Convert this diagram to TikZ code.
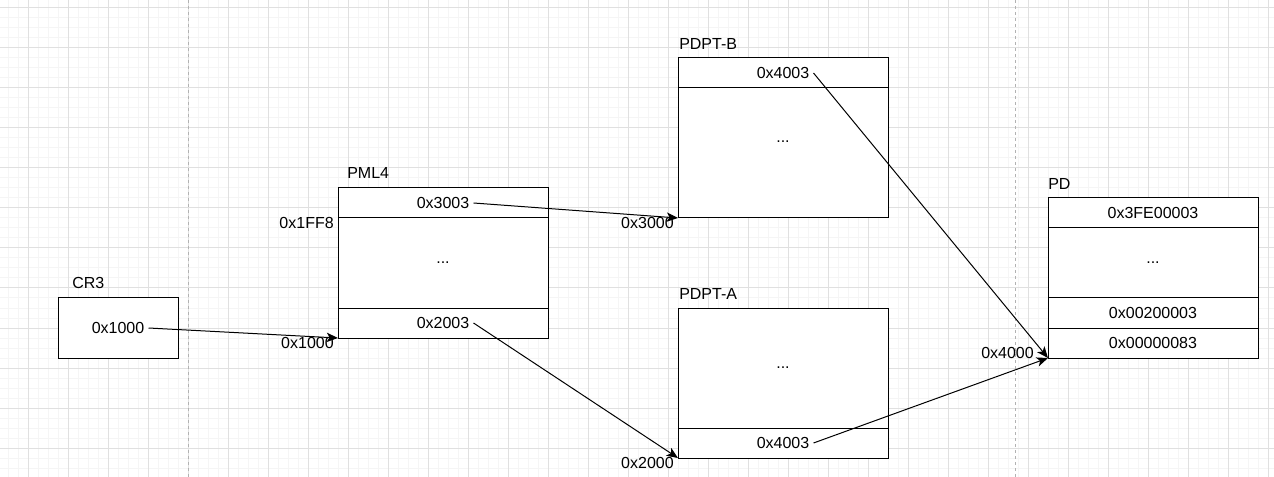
\documentclass[tikz,border=0pt]{standalone}
\usepackage{fontspec}
\setmainfont{Liberation Sans}
\usetikzlibrary{arrows.meta, positioning}

\tikzset{
  row/.style={draw=black, fill=white, line width=0.75pt, minimum width=157.5pt, inner sep=0pt, outer sep=0pt, font=\fontsize{12pt}{14pt}\selectfont},
  entry/.style={inner sep=3pt, font=\fontsize{12pt}{14pt}\selectfont},
  tlabel/.style={inner sep=0pt, anchor=west, font=\fontsize{12pt}{14pt}\selectfont},
  addr/.style={inner sep=0pt, anchor=east, font=\fontsize{12pt}{14pt}\selectfont},
  ptr/.style={draw=black, line width=0.75pt, -{Stealth[length=8.5pt, width=7pt, inset=2.2pt]}},
  minorgrid/.style={draw=black!4, line width=0.75pt},
  majorgrid/.style={draw=black!12, line width=0.75pt},
  split/.style={draw=black!30, line width=0.75pt, dash pattern=on 2.25pt off 2.25pt}
}

\begin{document}
\begin{tikzpicture}[x=0.75pt, y=-0.75pt]
\useasboundingbox (0,0) rectangle (1274,477);

% Background grid
\foreach \gx in {8,18,...,1268} {
    \draw[minorgrid] (\gx,0) -- (\gx,477);
}
\foreach \gy in {8,18,...,468} {
    \draw[minorgrid] (0,\gy) -- (1274,\gy);
}
\foreach \gx in {28,68,...,1268} {
    \draw[majorgrid] (\gx,0) -- (\gx,477);
}
\foreach \gy in {8,48,...,468} {
    \draw[majorgrid] (0,\gy) -- (1274,\gy);
}
\draw[split] (188,0) -- (188,477);
\draw[split] (1015,0) -- (1015,477);

% CR3
\node[row, anchor=north west, minimum width=90pt, minimum height=45pt] (cr3) at (58,298) {};
\node[entry] (cr3Val) at (cr3) {0x1000};
\node[tlabel] (cr3Lbl) at (72,283) {CR3};

% PML4
\node[row, anchor=north west, minimum height=22.5pt] (pmlTop) at (338,188) {};
\node[row, below=0pt of pmlTop, minimum height=67.5pt] (pmlMid) {...};
\node[row, below=0pt of pmlMid, minimum height=22.5pt] (pmlBot) {};
\node[entry] (pmlTopVal) at (pmlTop) {0x3003};
\node[entry] (pmlBotVal) at (pmlBot) {0x2003};
\node[tlabel] (pmlLbl) at (347,173) {PML4};
\node[addr] (pmlHi) at (334,223) {0x1FF8};
\node[addr] (pmlBase) at (334,343) {0x1000};

% PDPT-B
\node[row, anchor=north west, minimum height=22.5pt] (pdptBTop) at (678,58) {};
\node[row, below=0pt of pdptBTop, minimum height=97.5pt] (pdptBMid) {};
\node[entry] (pdptBVal) at (pdptBTop) {0x4003};
\node[entry] (pdptBDots) at (783,142) {...};
\node[tlabel] (pdptBLbl) at (679,44) {PDPT-B};
\node[addr] (pdptBBase) at (674,223) {0x3000};

% PDPT-A
\node[row, anchor=north west, minimum height=90pt] (pdptAMid) at (678,308) {...};
\node[row, below=0pt of pdptAMid, minimum height=22.5pt] (pdptABot) {};
\node[entry] (pdptAVal) at (pdptABot) {0x4003};
\node[tlabel] (pdptALbl) at (679,294) {PDPT-A};
\node[addr] (pdptABase) at (674,463) {0x2000};

% PD
\node[row, anchor=north west, minimum height=22.5pt] (pdTop) at (1048,198) {0x3FE00003};
\node[row, below=0pt of pdTop, minimum height=52.5pt] (pdMid) {...};
\node[row, below=0pt of pdMid, minimum height=22.5pt] (pdSecond) {0x00200003};
\node[row, below=0pt of pdSecond, minimum height=22.5pt] (pdFirst) {0x00000083};
\node[tlabel] (pdLbl) at (1048,184) {PD};
\node[addr] (pdBase) at (1034,353) {0x4000};

% Pointers
\draw[ptr] (cr3Val.east) -- (pmlBot.south west);
\draw[ptr] (pmlTopVal.east) -- (pdptBMid.south west);
\draw[ptr] (pmlBotVal.east) -- (pdptABot.south west);
\draw[ptr] (pdptBVal.east) -- (pdFirst.south west);
\draw[ptr] (pdptAVal.east) -- (pdFirst.south west);

\end{tikzpicture}
\end{document}
